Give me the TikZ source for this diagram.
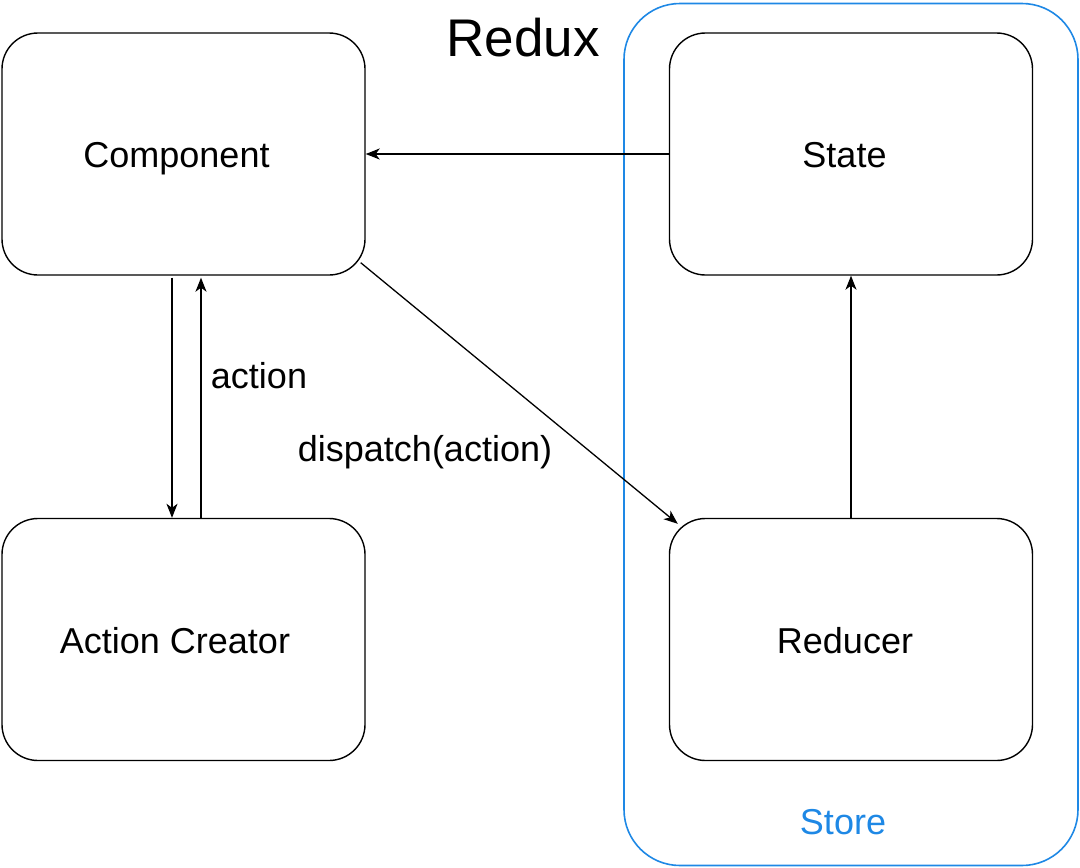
\documentclass[tikz,border=0pt]{standalone}
\usepackage{fontspec}
\setmainfont{Liberation Sans}
\usetikzlibrary{arrows.meta}
\definecolor{storeblue}{RGB}{30,136,229}
\begin{document}
\begin{tikzpicture}[x=1pt,y=-1pt,
  box/.style={draw=black,line width=1.4pt,rounded corners=36pt,minimum width=363pt,minimum height=242pt,inner sep=0pt},
  arr/.style={draw=black,line width=1.3pt,-{Stealth[length=14pt,width=11pt,inset=4pt]}},
  lbl/.style={font=\fontsize{36}{40}\selectfont,inner sep=0pt},
  boxtxt/.style={lbl,anchor=base}]
\useasboundingbox (0,0) rectangle (1080,868);
\node[draw=storeblue,line width=1.6pt,rounded corners=56pt,minimum width=454pt,minimum height=862pt,inner sep=0pt] (store) at (851,434.5) {};
\node[box] (comp) at (183.5,154) {};
\node[box] (state) at (851,154) {};
\node[box] (ac) at (183.5,639.5) {};
\node[box] (red) at (851,639.5) {};
\node[boxtxt] (comptxt) at ([xshift=-7pt,yshift=-13pt]comp.center) {Component};
\node[boxtxt] (statetxt) at ([xshift=-6.5pt,yshift=-13pt]state.center) {State};
\node[boxtxt] (actxt) at ([xshift=-8.5pt,yshift=-13.5pt]ac.center) {Action Creator};
\node[boxtxt] (redtxt) at ([xshift=-6pt,yshift=-13.5pt]red.center) {Reducer};
\node[lbl] (redux) at (523,38) {\fontsize{53}{60}\selectfont Redux};
\node[lbl,text=storeblue] (storelbl) at (843,822) {Store};
\node[lbl] (actionlbl) at (259,376) {action};
\node[lbl] (displbl) at (425,452) {dispatch(action)};
\draw[arr] (state.west) -- (comp.east);
\draw[arr] (red.north) -- (state.south);
\draw[arr] ([xshift=-11.5pt,yshift=-2pt]comp.south) -- ([xshift=-11.5pt]ac.north);
\draw[arr] ([xshift=17.5pt]ac.north) -- ([xshift=17.5pt,yshift=-2pt]comp.south);
\draw[arr] ([xshift=-5pt,yshift=13pt]comp.south east) -- ([xshift=9pt,yshift=-6pt]red.north west);
\end{tikzpicture}
\end{document}
